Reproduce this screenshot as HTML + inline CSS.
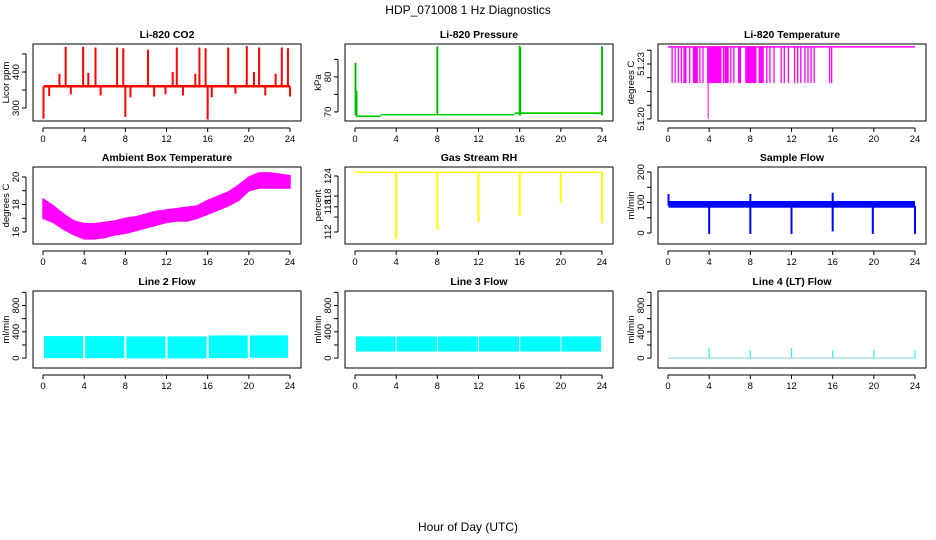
<!DOCTYPE html>
<html><head><meta charset="utf-8"><style>
html,body{margin:0;padding:0;background:#fff;}
svg{display:block;font-family:"Liberation Sans",sans-serif;}
</style></head><body>
<svg id="chart" width="936" height="540" viewBox="0 0 936 540" xmlns="http://www.w3.org/2000/svg">
<text x="468" y="14" text-anchor="middle" font-size="12">HDP_071008  1 Hz Diagnostics</text>
<text x="468" y="531" text-anchor="middle" font-size="12">Hour of Day (UTC)</text>
</svg>
<script>
// x ticks shared
const xTicks = [0, 4, 8, 12, 16, 20, 24];

// CO2
const co2Base = [[0.05, 24, 357, 364]];
const co2SpikeHours = [2.2, 3.9, 5.1, 7.2, 7.8, 10.2, 13.0, 15.2, 15.8, 18.0, 19.8, 21.0, 23.2, 23.8, 1.6, 4.4, 12.6, 14.8, 20.5, 22.6, 0.6, 2.7, 5.6, 8.5, 10.8, 11.9, 13.6, 16.4, 18.7, 21.6, 24.0, 0.05, 8.0, 16.0];
const co2SpikeValues = [470, 470, 468, 468, 466, 462, 468, 468, 466, 468, 472, 468, 468, 466, 395, 398, 400, 395, 400, 395, 333, 338, 335, 330, 332, 338, 335, 330, 340, 335, 332, 270, 275, 268];

// Pressure
const presBase = [[0.1, 2.5, 68.5, 69.0], [2.5, 15.5, 69.0, 69.4], [15.5, 24, 69.4, 69.9]];
const presSpikeHours = [0.05, 0.15, 8.0, 16.0, 16.05, 24.0];
const presSpikeValues = [84, 76, 88.7, 88.9, 88.5, 88.7];

// Li-820 temperature
const ltTop = 51.2393;
const ltDrop = 51.2196;
const ltDenseStart = [3.8, 6.8, 7.5, 8.8, 1.5, 2.4, 5.5];
const ltDenseEnd = [5.2, 7.1, 8.6, 9.3, 1.8, 2.9, 5.9];
const ltDropHours = [0.4, 0.7, 1.0, 1.3, 2.1, 3.1, 3.4, 5.4, 6.1, 6.4, 9.6, 9.9, 10.3, 11.0, 11.3, 11.7, 12.3, 12.6, 12.9, 13.3, 13.6, 13.9, 14.2, 15.7, 15.9];
const ltMinHour = 3.9;
const ltMinValue = 51.2;

// Ambient box temperature
const ambHours = [0,1,2,3,4,5,6,7,8,9,10,11,12,13,14,15,16,17,18,19,20,21,22,23,24];
const ambLow = [17.0,16.7,16.2,15.8,15.5,15.5,15.6,15.8,15.9,16.1,16.3,16.5,16.7,16.8,16.8,17.0,17.3,17.6,17.9,18.3,19.0,19.2,19.2,19.2,19.2];
const ambHigh = [18.4,17.9,17.3,16.8,16.6,16.6,16.7,16.8,17.0,17.1,17.3,17.5,17.6,17.7,17.8,17.9,18.3,18.6,18.9,19.4,20.0,20.3,20.3,20.2,20.1];

// Gas stream RH
const rhLevel = 124.8;
const rhDropHours = [4.0, 8.0, 12.0, 16.0, 20.0, 24.0];
const rhDropValues = [110.5, 112.5, 114.2, 115.5, 118.2, 114.0];

// Sample flow
const sfBand = [[0.05, 24, 83, 105]];
const sfDropHours = [4.0, 8.0, 12.0, 16.0, 19.9, 24.0];
const sfDropValues = [-3, -3, -3, 5, -3, -3];
const sfUpHours = [0.05, 8.0, 16.0];
const sfUpValues = [128, 128, 132];

// Line 2 flow
const l2SegStart = [0.1, 4.1, 8.1, 12.1, 16.1, 20.1];
const l2SegEnd = [3.9, 7.9, 11.9, 15.9, 19.9, 23.8];
const l2Low = [0, 0, -5, -5, 0, 5];
const l2High = [335, 335, 330, 330, 345, 345];

// Line 3 flow
const l3SegStart = [0.1, 4.05, 8.05, 12.05, 16.05, 20.05];
const l3SegEnd = [3.95, 7.95, 11.95, 15.95, 19.95, 23.9];
const l3Low = [100, 100, 100, 100, 100, 100];
const l3High = [330, 330, 330, 330, 330, 330];

// Line 4 flow
const l4Level = 0;
const l4SpikeHours = [4.0, 8.0, 12.0, 16.0, 20.0, 24.0];
const l4SpikeValues = [150, 120, 155, 120, 125, 120];

const NS = "http://www.w3.org/2000/svg";
const svg = document.getElementById("chart");
function mk(tag, attrs, parent) {
  const e = document.createElementNS(NS, tag);
  for (const k in attrs) e.setAttribute(k, attrs[k]);
  (parent || svg).appendChild(e);
  return e;
}
const colL = [33, 345, 658];
const rowT = [44, 167, 291];
const W = 268, H = 77;

function panel(col, row, title, yLabel, dom, yt, ytLabels, name) {
  const g = mk("g", {});
  
  
  const L = colL[col], T = rowT[row];
  const xs = h => L + 10 + h / 24 * 247;
  const ys = v => T + H - (v - dom[0]) / (dom[1] - dom[0]) * H;
  const clip = "c" + name;
  const cp = mk("clipPath", { id: clip }, g);
  mk("rect", { x: L, y: T, width: W, height: H }, cp);
  const marks = mk("g", { "clip-path": "url(#" + clip + ")" }, g);
  
  
  const box = mk("rect", { x: L, y: T, width: W, height: H, fill: "none", stroke: "#000", "stroke-width": 1 }, g);
  
  
  const t = mk("text", { x: L + W / 2, y: T - 6, "text-anchor": "middle", "font-size": 10.5, "font-weight": "bold" }, g);
  t.textContent = title;
  
  
  const xa = mk("g", {}, g);
  
  
  mk("line", { x1: xs(0), x2: xs(24), y1: T + H + 7, y2: T + H + 7, stroke: "#000" }, xa);
  xTicks.forEach(v => {
    mk("line", { x1: xs(v), x2: xs(v), y1: T + H + 7, y2: T + H + 11, stroke: "#000" }, xa);
    const tx = mk("text", { x: xs(v), y: T + H + 21, "text-anchor": "middle", "font-size": 9.5 }, xa);
    tx.textContent = v;
    
    
  });
  const ya = mk("g", {}, g);
  
  
  mk("line", { x1: L - 7, x2: L - 7, y1: ys(yt[0]), y2: ys(yt[yt.length - 1]), stroke: "#000" }, ya);
  yt.forEach((v, i) => {
    mk("line", { x1: L - 11, x2: L - 7, y1: ys(v), y2: ys(v), stroke: "#000" }, ya);
    if (ytLabels[i]) {
      const tx = mk("text", { x: L - 14, y: ys(v), "text-anchor": "middle", "font-size": 9.5, transform: "rotate(-90 " + (L - 14) + " " + ys(v) + ")" }, ya);
      tx.textContent = ytLabels[i];
      
      
    }
  });
  const yl = mk("text", { x: L - 24, y: T + H / 2, "text-anchor": "middle", "font-size": 9.5, transform: "rotate(-90 " + (L - 24) + " " + (T + H / 2) + ")" }, g);
  yl.textContent = yLabel;
  
  
  return { xs, ys, g: marks };
}
function band(p, h0, h1, lo, hi, col) {
  return mk("rect", { x: p.xs(h0), y: p.ys(hi), width: Math.max(1, p.xs(h1) - p.xs(h0)), height: Math.max(1, p.ys(lo) - p.ys(hi)), fill: col }, p.g);
}
function vline(p, h, v0, v1, col, w) {
  return mk("line", { x1: p.xs(h), x2: p.xs(h), y1: p.ys(v0), y2: p.ys(v1), stroke: col, "stroke-width": w || 1.5 }, p.g);
}

let p = panel(0, 0, "Li-820 CO2", "Licor ppm", [263.9, 477.8], [300, 350, 400, 450], ["300", "", "400", ""], "co2");
co2Base.forEach(b => { const r = band(p, b[0], b[1], b[2], b[3], "#ff0000");   });
co2SpikeHours.forEach((h, i) => { const l = vline(p, h, 360, co2SpikeValues[i], "#ff0000", 2);   });

p = panel(1, 0, "Li-820 Pressure", "kPa", [67.4, 89.4], [70, 75, 80, 85], ["70", "", "80", ""], "pressure");
presBase.forEach(b => { const r = band(p, b[0], b[1], b[2], b[3], "#00cc00");   });
presSpikeHours.forEach((h, i) => {
  const l = vline(p, h, 69, presSpikeValues[i], "#00dd00", 2);
   
  mk("line", { x1: p.xs(h), x2: p.xs(h), y1: p.ys(69), y2: p.ys(presSpikeValues[i]), stroke: "#005500", "stroke-width": 0.7, "stroke-dasharray": "1 1" }, p.g);
});

p = panel(2, 0, "Li-820 Temperature", "degrees C", [51.1989, 51.2409], [51.2, 51.2075, 51.215, 51.2225, 51.23, 51.2375], ["51.20", "", "", "", "51.23", ""], "li-temp");
{
  const l = mk("line", { x1: p.xs(0), x2: p.xs(24), y1: p.ys(ltTop), y2: p.ys(ltTop), stroke: "#ff00ff", "stroke-width": 1.5 }, p.g);
   
}
ltDenseStart.forEach((s, i) => { const r = band(p, s, ltDenseEnd[i], ltDrop, ltTop, "#ff00ff");   });
ltDropHours.forEach(h => { const l = vline(p, h, ltTop, ltDrop, "#ff00ff", 1.3);   });
{ const l = vline(p, ltMinHour, ltTop, ltMinValue, "#ff00ff", 1);   }

p = panel(0, 1, "Ambient Box Temperature", "degrees C", [15.127, 20.727], [16, 17, 18, 19, 20], ["16", "", "18", "", "20"], "ambient");
{
  let d = "";
  ambHours.forEach((h, i) => { d += (i ? "L" : "M") + p.xs(h) + " " + p.ys(ambHigh[i]) + " "; });
  for (let i = ambHours.length - 1; i >= 0; i--) d += "L" + p.xs(ambHours[i]) + " " + p.ys(ambLow[i]) + " ";
  const pa = mk("path", { d: d + "Z", fill: "#ff00ff", stroke: "#ff00ff", "stroke-width": 1.5 }, p.g);
   
}

p = panel(1, 1, "Gas Stream RH", "percent", [109.43, 125.93], [112, 115.2, 117.4, 119.7, 124], ["112", "", "118", "118", "124"], "rh");
{
  const l = mk("line", { x1: p.xs(0), x2: p.xs(24), y1: p.ys(rhLevel), y2: p.ys(rhLevel), stroke: "#ffff00", "stroke-width": 1.5 }, p.g);
   
}
rhDropHours.forEach((h, i) => { const l = vline(p, h, rhLevel, rhDropValues[i], "#ffff00", 2);   });

p = panel(2, 1, "Sample Flow", "ml/min", [-36, 216.4], [0, 50, 100, 150, 200], ["0", "", "100", "", "200"], "sample-flow");
sfBand.forEach(b => { const r = band(p, b[0], b[1], b[2], b[3], "#0000ff");   });
sfDropHours.forEach((h, i) => { const l = vline(p, h, 90, sfDropValues[i], "#0000ff", 2);   });
sfUpHours.forEach((h, i) => { const l = vline(p, h, 90, sfUpValues[i], "#0000ff", 2);   });

const flowTicks = [0, 200, 400, 600, 800, 1000];
const flowLabels = ["0", "", "400", "", "800", ""];
p = panel(0, 2, "Line 2 Flow", "ml/min", [-150, 1020], flowTicks, flowLabels, "line2-flow");
l2SegStart.forEach((s, i) => { const r = band(p, s, l2SegEnd[i], l2Low[i], l2High[i], "#00ffff");   });
p = panel(1, 2, "Line 3 Flow", "ml/min", [-150, 1020], flowTicks, flowLabels, "line3-flow");
l3SegStart.forEach((s, i) => { const r = band(p, s, l3SegEnd[i], l3Low[i], l3High[i], "#00ffff");   });
p = panel(2, 2, "Line 4 (LT) Flow", "ml/min", [-150, 1020], flowTicks, flowLabels, "line4-flow");
{
  const l = mk("line", { x1: p.xs(0), x2: p.xs(24), y1: p.ys(l4Level), y2: p.ys(l4Level), stroke: "#a0d8d8", "stroke-width": 1.2 }, p.g);
   
}
l4SpikeHours.forEach((h, i) => { const l = vline(p, h, l4Level, l4SpikeValues[i], "#40f0f0", 1.3);   });
</script>
</body></html>
